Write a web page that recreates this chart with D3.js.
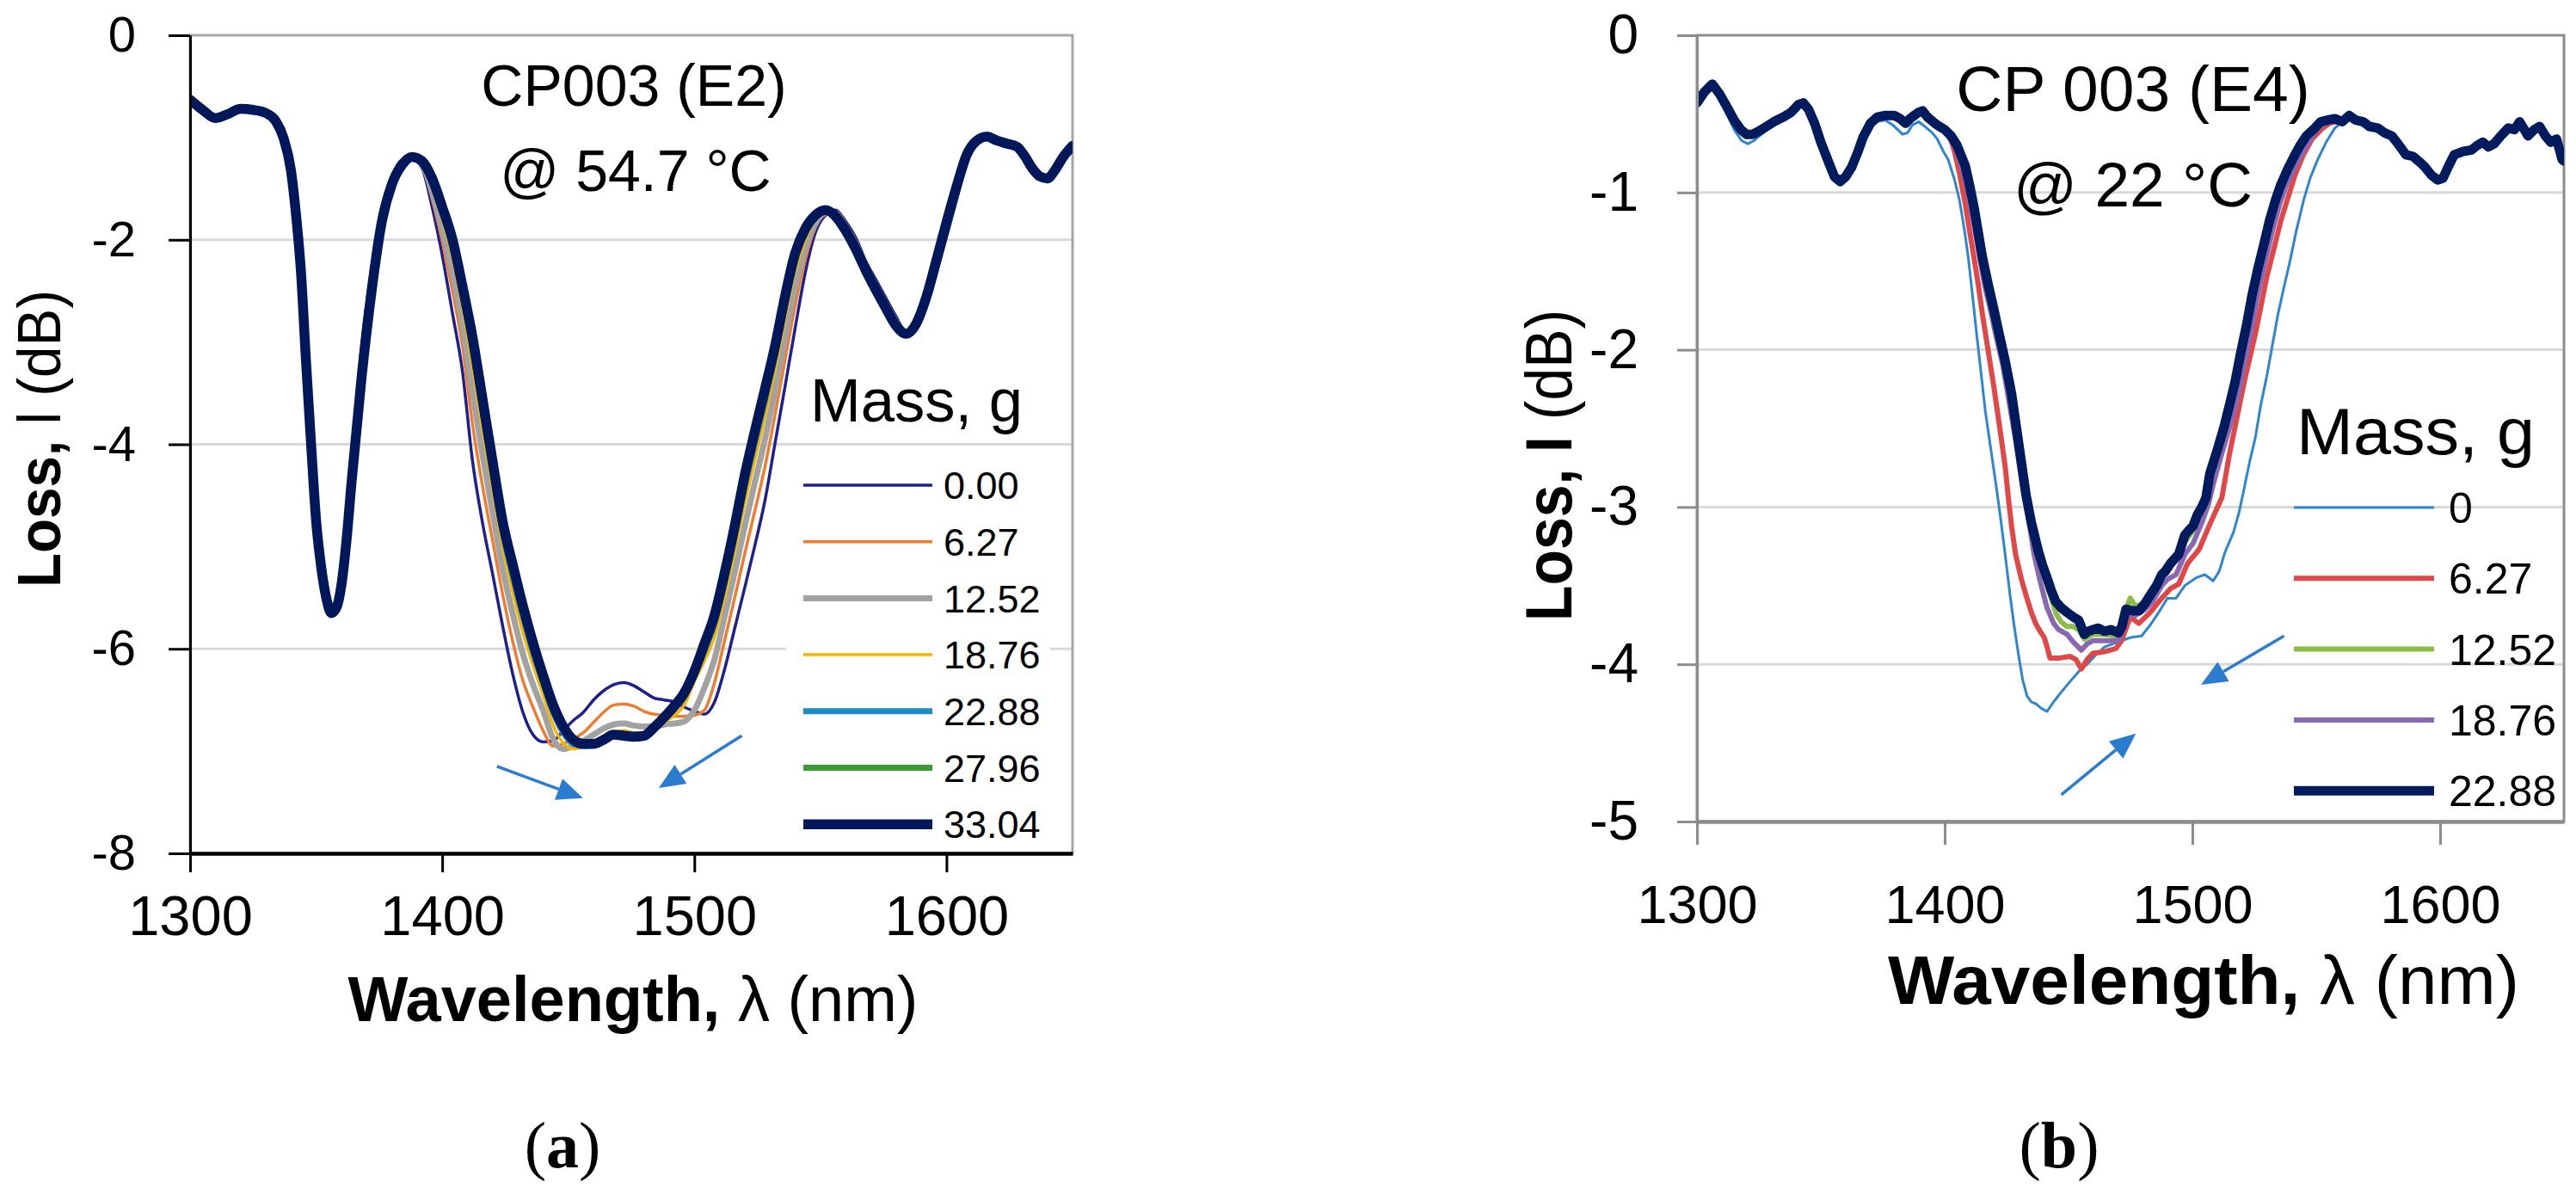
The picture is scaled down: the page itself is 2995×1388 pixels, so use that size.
<!DOCTYPE html>
<html><head><meta charset="utf-8">
<script src="https://cdn.jsdelivr.net/npm/d3@7"></script>
<style>body{margin:0;background:#fff}svg{display:block}</style>
</head><body>
<svg id="c" width="2995" height="1388"></svg>
<script>
// ---------------- DATA ----------------
const xTicks = [1300, 1400, 1500, 1600];
const yTicksA = [0, -2, -4, -6, -8];
const yTicksB = [0, -1, -2, -3, -4, -5];
const gridLinesA = [-2, -4, -6];
const gridLinesB = [-1, -2, -3, -4];
const massA = ["0.00", "6.27", "12.52", "18.76", "22.88", "27.96", "33.04"];
const massB = ["0", "6.27", "12.52", "18.76", "22.88"];

// Panel (a): shared start / end, per-series middle part on wavelength grid
const headA = [[1300,-0.63],[1305,-0.73],[1310,-0.81],[1315,-0.77],[1320,-0.72],[1325,-0.73],[1330,-0.76],[1334,-0.84],[1337,-1.0],[1340,-1.32],[1342,-1.75],[1344,-2.32],[1346,-3.2],[1348,-4.0],[1350,-4.75],[1352,-5.2],[1354,-5.5],[1356,-5.65],[1358,-5.6],[1360,-5.38],[1362,-4.95]];
const tailA = [[1616,-0.99],[1620,-1.03],[1624,-1.06],[1628,-1.09],[1631,-1.18],[1634,-1.3],[1637,-1.38],[1640,-1.4],[1643,-1.32],[1646,-1.2],[1650,-1.08]];
const gridA = [1364,1368,1372,1376,1380,1384,1388,1392,1396,1400,1404,1408,1412,1416,1420,1424,1428,1432,1436,1440,1444,1448,1452,1456,1460,1464,1468,1472,1476,1480,1484,1488,1492,1496,1500,1504,1508,1512,1516,1520,1524,1528,1532,1536,1540,1544,1548,1552,1556,1560,1564,1568,1572,1576,1580,1584,1588,1592,1596,1600,1604,1608,1612];
const a000 = [-4.25,-3.05,-2.28,-1.70,-1.38,-1.22,-1.20,-1.30,-1.68,-2.15, -2.71,-3.28,-4.16,-4.77,-5.27,-5.78,-6.25,-6.62,-6.84,-6.91, -6.90,-6.80,-6.70,-6.62,-6.50,-6.41,-6.35,-6.33,-6.36,-6.42, -6.48,-6.50,-6.52,-6.57,-6.61,-6.64,-6.52,-6.20,-5.80,-5.40, -4.99,-4.55,-3.99,-3.43,-2.86,-2.32,-1.93,-1.76,-1.71,-1.82, -1.98,-2.21,-2.39,-2.57,-2.75,-2.90,-2.86,-2.66,-2.33,-1.97, -1.61,-1.24,-1.04];
const a627 = [-4.29,-3.14,-2.35,-1.74,-1.40,-1.24,-1.20,-1.28,-1.60,-2.01, -2.49,-3.03,-3.80,-4.41,-4.94,-5.47,-5.93,-6.31,-6.57,-6.80, -6.95,-6.93,-6.88,-6.82,-6.72,-6.62,-6.55,-6.54,-6.56,-6.61, -6.64,-6.65,-6.66,-6.66,-6.65,-6.60,-6.33,-5.92,-5.50,-5.07, -4.65,-4.22,-3.71,-3.17,-2.64,-2.19,-1.88,-1.75,-1.73,-1.85, -2.01,-2.24,-2.42,-2.60,-2.78,-2.91,-2.85,-2.63,-2.29,-1.93, -1.57,-1.22,-1.04];
const a1252 = [-4.32,-3.22,-2.40,-1.77,-1.42,-1.25,-1.19,-1.26,-1.53,-1.89, -2.31,-2.82,-3.49,-4.10,-4.67,-5.22,-5.66,-6.05,-6.35,-6.60, -6.88,-6.98,-6.95,-6.90,-6.84,-6.78,-6.74,-6.73,-6.75,-6.76, -6.76,-6.74,-6.73,-6.71,-6.60,-6.38,-6.10,-5.68,-5.25,-4.80, -4.37,-3.95,-3.47,-2.95,-2.46,-2.08,-1.84,-1.73,-1.74,-1.87, -2.04,-2.26,-2.45,-2.63,-2.80,-2.91,-2.84,-2.60,-2.26,-1.89, -1.54,-1.20,-1.03];
const a1876 = [-4.35,-3.28,-2.45,-1.80,-1.44,-1.26,-1.19,-1.25,-1.47,-1.80, -2.17,-2.66,-3.25,-3.86,-4.44,-5.01,-5.45,-5.84,-6.16,-6.45, -6.75,-6.92,-6.98,-6.96,-6.92,-6.87,-6.82,-6.80,-6.82,-6.82, -6.78,-6.72,-6.65,-6.55,-6.32,-6.12,-5.88,-5.50,-5.05,-4.58, -4.15,-3.73,-3.28,-2.77,-2.31,-2.00,-1.80,-1.72,-1.75,-1.89, -2.06,-2.28,-2.47,-2.65,-2.82,-2.92,-2.83,-2.58,-2.23,-1.86, -1.51,-1.19,-1.03];
const a2288 = [-4.37,-3.32,-2.48,-1.82,-1.45,-1.27,-1.19,-1.24,-1.43,-1.73, -2.06,-2.53,-3.07,-3.68,-4.28,-4.86,-5.29,-5.68,-6.03,-6.33, -6.62,-6.82,-6.93,-6.95,-6.94,-6.89,-6.84,-6.83,-6.84,-6.84, -6.78,-6.69,-6.59,-6.47,-6.26,-6.02,-5.75,-5.35,-4.90,-4.41, -3.98,-3.57,-3.13,-2.64,-2.20,-1.93,-1.78,-1.71,-1.76,-1.90, -2.08,-2.29,-2.48,-2.66,-2.83,-2.92,-2.82,-2.57,-2.21,-1.84, -1.49,-1.18,-1.03];
const a2796 = [-4.37,-3.33,-2.49,-1.82,-1.46,-1.27,-1.19,-1.23,-1.41,-1.70, -2.03,-2.49,-3.01,-3.62,-4.22,-4.81,-5.23,-5.63,-5.98,-6.29, -6.58,-6.79,-6.91,-6.94,-6.94,-6.89,-6.84,-6.84,-6.85,-6.85, -6.78,-6.68,-6.57,-6.45,-6.24,-5.98,-5.71,-5.31,-4.85,-4.36, -3.93,-3.52,-3.09,-2.60,-2.17,-1.91,-1.77,-1.71,-1.77,-1.91, -2.09,-2.30,-2.49,-2.67,-2.84,-2.92,-2.82,-2.56,-2.20,-1.83, -1.48,-1.17,-1.03];
const a3304 = [-4.38,-3.35,-2.50,-1.83,-1.46,-1.27,-1.19,-1.23,-1.40,-1.68, -1.99,-2.45,-2.95,-3.56,-4.17,-4.76,-5.18,-5.58,-5.94,-6.26, -6.55,-6.76,-6.89,-6.93,-6.93,-6.89,-6.84,-6.85,-6.86,-6.85, -6.77,-6.67,-6.56,-6.43,-6.22,-5.95,-5.67,-5.26,-4.80,-4.30, -3.87,-3.46,-3.04,-2.55,-2.13,-1.89,-1.76,-1.71,-1.77,-1.91, -2.09,-2.30,-2.49,-2.67,-2.84,-2.92,-2.82,-2.56,-2.20,-1.83, -1.48,-1.17,-1.03];

// Panel (b): [wavelength, loss] pairs
const bHeadAll = [[1300,-0.43],[1303,-0.36],[1306.2,-0.31],[1309,-0.37]];
const bHead = [[1311.9,-0.45],[1315,-0.54],[1317.7,-0.60],[1320,-0.63],[1322.3,-0.63],[1325,-0.61],[1328,-0.58],[1331,-0.55],[1334.9,-0.52],[1338,-0.49],[1341,-0.44],[1342.9,-0.43],[1345,-0.47],[1347.5,-0.56],[1350,-0.68],[1353.2,-0.81],[1355.5,-0.90],[1357.8,-0.93],[1360,-0.90],[1362.4,-0.84],[1365,-0.74],[1367,-0.65],[1370,-0.56],[1372.8,-0.52],[1376,-0.51],[1379.6,-0.51],[1382,-0.53],[1384.2,-0.56],[1386,-0.53],[1387.7,-0.51],[1389.5,-0.49],[1391.1,-0.48],[1393,-0.52],[1396.9,-0.57],[1400,-0.60]];
const b0 = [[1312,-0.50],[1315,-0.60],[1318,-0.67],[1320.5,-0.69],[1323,-0.67],[1326,-0.63],[1330,-0.58],[1334,-0.53],[1338,-0.50],[1341,-0.45],[1343,-0.44],[1345,-0.49],[1347.5,-0.58],[1350,-0.70],[1353,-0.83],[1356,-0.92],[1358,-0.94],[1360.5,-0.90],[1363,-0.82],[1366,-0.70],[1369,-0.60],[1372,-0.55],[1376,-0.54],[1379,-0.57],[1381,-0.60],[1383,-0.63],[1385,-0.62],[1387,-0.57],[1389.5,-0.55],[1392,-0.58],[1395,-0.62],[1397,-0.66],[1399.5,-0.74],[1401.4,-0.79],[1404,-0.92],[1406,-1.05],[1408,-1.24],[1409.5,-1.41],[1411.2,-1.65],[1412.9,-1.90],[1414.7,-2.15],[1416.4,-2.39],[1418.7,-2.64],[1421,-2.89],[1422.8,-3.10],[1424.4,-3.30],[1426.3,-3.55],[1428,-3.75],[1429.8,-3.94],[1431.5,-4.10],[1433.2,-4.20],[1435,-4.24],[1436.7,-4.25],[1439,-4.28],[1441.3,-4.30],[1443.5,-4.25],[1445.9,-4.20],[1448.5,-4.15],[1451.7,-4.09],[1454.5,-4.04],[1457.5,-4.00],[1461,-3.94],[1464.5,-3.89],[1468,-3.87],[1471.4,-3.85],[1475,-3.83],[1479.5,-3.82],[1483,-3.75],[1486.4,-3.67],[1489.9,-3.58],[1493.4,-3.58],[1496.9,-3.50],[1501.5,-3.45],[1505,-3.43],[1508.4,-3.47],[1510.8,-3.41],[1513.1,-3.29],[1516.6,-3.16],[1518.9,-3.03],[1520.8,-2.89],[1523,-2.72],[1525.4,-2.56],[1527.5,-2.36],[1530,-2.17],[1532.3,-1.97],[1534.6,-1.77],[1537,-1.60],[1539.2,-1.45],[1542,-1.24],[1544.9,-1.05],[1547.5,-0.91],[1550.6,-0.79],[1554,-0.68],[1557.5,-0.59],[1560.5,-0.55],[1563.3,-0.52]];
const b627 = [[1402.6,-0.67],[1404,-0.74],[1406,-0.88],[1408.3,-1.07],[1410,-1.24],[1411.8,-1.41],[1413.5,-1.58],[1415.2,-1.77],[1417.5,-2.00],[1419.8,-2.23],[1422,-2.47],[1424.4,-2.74],[1425.7,-2.94],[1427,-3.12],[1428.6,-3.30],[1431,-3.46],[1433.2,-3.58],[1435,-3.67],[1436.7,-3.74],[1438.5,-3.79],[1440.2,-3.83],[1441.5,-3.90],[1442.5,-3.96],[1446.5,-3.96],[1450.6,-3.95],[1453,-3.97],[1455.2,-4.03],[1457.5,-3.97],[1459.8,-3.93],[1464.5,-3.92],[1469.1,-3.90],[1471.4,-3.85],[1474.9,-3.70],[1478.4,-3.74],[1483,-3.67],[1487.6,-3.58],[1491.1,-3.52],[1494.5,-3.49],[1498,-3.36],[1502.7,-3.27],[1507.3,-3.10],[1511.9,-2.94],[1515,-2.66],[1518,-2.43],[1521,-2.20],[1525.4,-1.90],[1530,-1.54],[1535.7,-1.18],[1541.4,-0.89],[1544.8,-0.76],[1548.3,-0.66],[1552,-0.60],[1555.2,-0.56],[1558,-0.55],[1560.5,-0.55],[1563.3,-0.52]];
const b1252 = [[1403,-0.66],[1405,-0.73],[1408,-0.88],[1410,-1.02],[1412,-1.18],[1414,-1.35],[1416,-1.53],[1418.5,-1.70],[1421,-1.88],[1423.5,-2.05],[1426,-2.27],[1428.5,-2.50],[1431,-2.78],[1433,-2.98],[1435.5,-3.18],[1438,-3.34],[1441,-3.48],[1443,-3.58],[1445,-3.68],[1447,-3.73],[1449.4,-3.76],[1452,-3.76],[1454,-3.78],[1456.4,-3.84],[1459.8,-3.81],[1464.5,-3.81],[1470,-3.82],[1472,-3.70],[1474.9,-3.58],[1477,-3.63],[1481,-3.61],[1484,-3.56],[1487.6,-3.45],[1491,-3.38],[1494.5,-3.32],[1497,-3.22],[1500.3,-3.15],[1503.8,-3.03],[1506,-2.92],[1508,-2.80],[1511,-2.63],[1513.8,-2.48],[1516,-2.35],[1518.3,-2.20],[1520.5,-2.03],[1523,-1.84],[1525,-1.66],[1527.5,-1.48],[1530,-1.32],[1532,-1.18],[1534.5,-1.05],[1537,-0.94],[1540,-0.84],[1542.5,-0.76],[1545,-0.70],[1547.5,-0.64],[1550,-0.59],[1553,-0.55],[1556,-0.54],[1560,-0.54],[1563.3,-0.50]];
const b1876 = [[1403,-0.67],[1405,-0.74],[1408,-0.90],[1410,-1.05],[1412,-1.22],[1414,-1.40],[1416,-1.58],[1418.5,-1.75],[1421,-1.93],[1423.5,-2.10],[1426,-2.33],[1428.5,-2.56],[1431,-2.82],[1433.5,-3.04],[1436.1,-3.30],[1438.5,-3.47],[1441.3,-3.64],[1444,-3.74],[1446,-3.78],[1449.4,-3.81],[1452,-3.86],[1455.2,-3.91],[1457.5,-3.87],[1459.8,-3.85],[1464.5,-3.85],[1470.2,-3.85],[1472,-3.78],[1474,-3.68],[1477,-3.69],[1481,-3.65],[1484,-3.60],[1487.6,-3.50],[1490,-3.46],[1493.4,-3.43],[1497,-3.30],[1500.3,-3.23],[1503.8,-3.10],[1506.5,-2.98],[1508.5,-2.85],[1511.5,-2.68],[1514.5,-2.52],[1517,-2.38],[1519.3,-2.22],[1521.5,-2.05],[1524,-1.86],[1526,-1.68],[1528.5,-1.50],[1531,-1.33],[1533,-1.20],[1535.5,-1.06],[1538,-0.95],[1541,-0.85],[1543.5,-0.77],[1546,-0.70],[1548.5,-0.64],[1551,-0.59],[1554,-0.55],[1557,-0.54],[1560,-0.54],[1563.3,-0.51]];
const b2288 = [[1402.6,-0.64],[1405,-0.70],[1408.3,-0.83],[1410,-0.95],[1411.8,-1.09],[1413.5,-1.25],[1415.2,-1.41],[1417.5,-1.58],[1419.8,-1.74],[1422,-1.90],[1424.4,-2.07],[1427,-2.28],[1429,-2.50],[1431,-2.72],[1432.8,-2.92],[1435,-3.10],[1437.8,-3.28],[1439.5,-3.37],[1441.3,-3.45],[1443,-3.53],[1444.8,-3.60],[1447,-3.64],[1449.4,-3.67],[1452,-3.70],[1454.1,-3.72],[1456.4,-3.81],[1458,-3.79],[1459.8,-3.78],[1462,-3.77],[1464.5,-3.79],[1467,-3.78],[1470.2,-3.80],[1471.5,-3.76],[1473.2,-3.65],[1476,-3.66],[1478.4,-3.66],[1481,-3.61],[1483,-3.56],[1485.5,-3.50],[1487.6,-3.43],[1489,-3.41],[1491.1,-3.36],[1494.5,-3.30],[1496.9,-3.18],[1498.5,-3.15],[1500.3,-3.12],[1502,-3.05],[1503.8,-3.00],[1505.5,-2.94],[1507,-2.79],[1510,-2.64],[1512.8,-2.49],[1515,-2.35],[1517.3,-2.20],[1519.5,-2.02],[1521.9,-1.84],[1524,-1.66],[1526.5,-1.48],[1529,-1.32],[1531.1,-1.18],[1533.5,-1.05],[1535.7,-0.95],[1538.5,-0.85],[1541.4,-0.76],[1543.5,-0.70],[1546,-0.64],[1548.8,-0.60],[1551.8,-0.55],[1554.5,-0.54],[1557.5,-0.53],[1560.5,-0.55],[1563.3,-0.51]];
const bTail = [[1566,-0.54],[1569,-0.55],[1571.5,-0.58],[1574.8,-0.59],[1577.5,-0.62],[1580.5,-0.64],[1583,-0.69],[1586.2,-0.76],[1589,-0.77],[1592,-0.81],[1594,-0.84],[1596.5,-0.89],[1599,-0.92],[1601.1,-0.91],[1603.5,-0.83],[1605.7,-0.76],[1609,-0.74],[1612.6,-0.73],[1615,-0.70],[1617.2,-0.68],[1619.5,-0.71],[1621.8,-0.69],[1624.5,-0.64],[1627.5,-0.59],[1630,-0.60],[1632.1,-0.55],[1634,-0.60],[1635.5,-0.64],[1638,-0.60],[1640.2,-0.58],[1642.5,-0.64],[1644.7,-0.68],[1647,-0.66],[1649.3,-0.79],[1650,-0.80]];

// Annotation arrows [x1, y1, x2(tip), y2(tip)] in data units
const arrowsA = [[1421.7,-7.15,1455.8,-7.46],[1518.8,-6.85,1485.9,-7.36]];
const arrowsB = [[1447.1,-4.83,1477.2,-4.44],[1537.0,-3.82,1503.5,-4.13]];

// ---------------- STYLE ----------------
const FONT = '"Liberation Sans", Arial, "DejaVu Sans", sans-serif';
const SERIF = '"Liberation Serif", "DejaVu Serif", serif';
const colorsA = ["#1f1f8e", "#ed7d31", "#a2a2a2", "#f5b400", "#1f8bc6", "#3a9a34", "#00175a"];
const widthsA = [3.5, 3.5, 7, 3.5, 7, 7, 11.5];
const colorsB = ["#2e86cf", "#e04848", "#8cbd45", "#8a68b0", "#001a5e"];
const widthsB = [3, 6, 6, 6, 11];
const arrowColor = "#2a7ccf";

const svg = d3.select("#c");
svg.append("rect").attr("width", 2995).attr("height", 1388).attr("fill", "#fff");

const midA = [a000, a627, a1252, a1876, a2288, a2796, a3304];
const seriesA = massA.map((m, i) => ({
  name: m, color: colorsA[i], width: widthsA[i],
  pts: headA.concat(gridA.map((w, j) => [w, midA[i][j]]), tailA)
}));
const seriesB = [
  bHeadAll.concat(b0, bTail),
  bHeadAll.concat(bHead, b627, bTail),
  bHeadAll.concat(bHead, b1252, bTail),
  bHeadAll.concat(bHead, b1876, bTail),
  bHeadAll.concat(bHead, b2288, bTail)
].map((pts, i) => ({ name: massB[i], color: colorsB[i], width: widthsB[i], pts }));

const fmt = d => String(d);   // plain hyphen-minus like the reference

function panel(cfg) {
  const g = svg.append("g");
  const x = d3.scaleLinear().domain([1300, 1650]).range([cfg.left, cfg.right]);
  const y = d3.scaleLinear().domain([cfg.yTicks[cfg.yTicks.length - 1], 0]).range([cfg.bottom, cfg.top]);

  // gridlines
  g.append("g").selectAll("line").data(cfg.grid).join("line")
    .attr("x1", cfg.left).attr("x2", cfg.right)
    .attr("y1", d => y(d)).attr("y2", d => y(d))
    .attr("stroke", "#d9d9d9").attr("stroke-width", 3);
  // plot border
  g.append("rect").attr("x", cfg.left).attr("y", cfg.top)
    .attr("width", cfg.right - cfg.left).attr("height", cfg.bottom - cfg.top)
    .attr("fill", "none").attr("stroke", cfg.borderColor).attr("stroke-width", 3);

  const clipId = "clip" + cfg.id;
  svg.append("defs").append("clipPath").attr("id", clipId).append("rect")
    .attr("x", cfg.left).attr("y", cfg.top - 20).attr("width", cfg.right - cfg.left).attr("height", cfg.bottom - cfg.top + 20);

  // titles inside plot
  cfg.titles.forEach(t => g.append("text").attr("x", t.x).attr("y", t.y)
    .attr("text-anchor", "middle").attr("font-family", FONT).attr("font-size", t.size)
    .attr("fill", "#000").text(t.text));

  const line = d3.line().x(d => x(d[0])).y(d => y(d[1])).curve(cfg.curve);
  g.append("g").attr("clip-path", `url(#${clipId})`).selectAll("path").data(cfg.series).join("path")
    .attr("d", d => line(d.pts)).attr("fill", "none")
    .attr("stroke", d => d.color).attr("stroke-width", d => d.width)
    .attr("stroke-linejoin", "round").attr("stroke-linecap", "round");

  // arrows
  cfg.arrows.forEach(a => {
    const x1 = x(a[0]), y1 = y(a[1]), x2 = x(a[2]), y2 = y(a[3]);
    const ang = Math.atan2(y2 - y1, x2 - x1);
    const hl = 30, hw = 13;
    const bx = x2 - hl * Math.cos(ang), by = y2 - hl * Math.sin(ang);
    g.append("line").attr("x1", x1).attr("y1", y1).attr("x2", bx).attr("y2", by)
      .attr("stroke", arrowColor).attr("stroke-width", 3.5);
    g.append("path").attr("d", `M${x2},${y2}L${bx + hw * Math.sin(ang)},${by - hw * Math.cos(ang)}L${bx - hw * Math.sin(ang)},${by + hw * Math.cos(ang)}Z`)
      .attr("fill", arrowColor);
  });

  // legend
  const L = cfg.legend;
  if (L.box) g.append("rect").attr("x", L.box[0]).attr("y", L.box[1]).attr("width", L.box[2]).attr("height", L.box[3]).attr("fill", "#fff");
  g.append("text").attr("x", L.titleX).attr("y", L.titleY).attr("font-family", FONT)
    .attr("font-size", L.titleSize).attr("textLength", L.titleLen).attr("lengthAdjust", "spacingAndGlyphs")
    .attr("fill", "#000").text("Mass, g");
  const items = g.append("g").selectAll("g").data(cfg.series).join("g")
    .attr("transform", (d, i) => `translate(0,${L.row0 + i * L.rowStep})`);
  items.append("line").attr("x1", L.lx1).attr("x2", L.lx2)
    .attr("stroke", d => d.color).attr("stroke-width", d => d.width);
  items.append("text").attr("x", L.tx).attr("dy", "0.36em").attr("font-family", FONT)
    .attr("font-size", L.size).attr("fill", "#000").text(d => d.name);

  // axes
  const ax = g.append("g").attr("transform", `translate(${cfg.left},0)`)
    .call(d3.axisLeft(y).tickValues(cfg.yTicks).tickFormat(fmt).tickSize(cfg.yTickSize).tickPadding(cfg.yPad).tickSizeOuter(0));
  const bx = g.append("g").attr("transform", `translate(0,${cfg.bottom})`)
    .call(d3.axisBottom(x).tickValues(xTicks).tickFormat(fmt).tickSize(cfg.xTickSize).tickPadding(cfg.xPad).tickSizeOuter(0));
  [ax, bx].forEach((a, k) => {
    a.attr("color", cfg.axisColor).attr("font-family", FONT);
    a.select(".domain").attr("stroke-width", k === 0 ? 3 : 4.5);
    a.selectAll(".tick line").attr("stroke-width", 3);
    a.selectAll(".tick text").attr("fill", "#000");
  });
  ax.attr("font-size", cfg.yFont);
  bx.attr("font-size", cfg.xFont);

  // axis titles
  const xt = g.append("text").attr("x", cfg.xTitle.x).attr("y", cfg.xTitle.y).attr("text-anchor", "middle")
    .attr("font-family", FONT).attr("font-size", cfg.xTitle.size)
    .attr("textLength", cfg.xTitle.len).attr("lengthAdjust", "spacingAndGlyphs").attr("fill", "#000");
  xt.append("tspan").attr("font-weight", "bold").text("Wavelength,");
  xt.append("tspan").text(" \u03bb (nm)");
  const yt = g.append("text").attr("transform", `translate(${cfg.yTitle.x},${cfg.yTitle.y}) rotate(-90)`)
    .attr("text-anchor", "middle").attr("font-family", FONT).attr("font-size", cfg.yTitle.size)
    .attr("textLength", cfg.yTitle.len).attr("lengthAdjust", "spacingAndGlyphs").attr("fill", "#000");
  yt.append("tspan").attr("font-weight", "bold").text(cfg.yTitle.bold);
  yt.append("tspan").text(cfg.yTitle.normal);

  // sub label
  const sl = g.append("text").attr("x", cfg.sub.x).attr("y", cfg.sub.y).attr("text-anchor", "middle")
    .attr("font-family", SERIF).attr("font-size", 76).attr("fill", "#000");
  sl.append("tspan").text("(");
  sl.append("tspan").attr("font-weight", "bold").text(cfg.sub.letter);
  sl.append("tspan").text(")");
}

panel({
  id: "A", left: 221, right: 1247, top: 41, bottom: 992,
  yTicks: yTicksA, grid: gridLinesA, borderColor: "#a6a6a6", axisColor: "#000",
  series: seriesA, curve: d3.curveMonotoneX, arrows: arrowsA,
  yTickSize: 25, yPad: 38, yFont: 58, xTickSize: 22, xPad: 27, xFont: 65,
  titles: [{ text: "CP003 (E2)", x: 737, y: 123, size: 68 }, { text: "@ 54.7 \u00b0C", x: 739, y: 222, size: 68 }],
  legend: { box: [914, 526, 307, 460], titleX: 942, titleY: 490, titleSize: 70, titleLen: 247,
    row0: 564, rowStep: 65.7, lx1: 934, lx2: 1084, tx: 1097, size: 45 },
  xTitle: { x: 736, y: 1187, size: 74, len: 663 },
  yTitle: { x: 70, y: 510, size: 70, len: 346, bold: "Loss,", normal: " l (dB)" },
  sub: { x: 654, y: 1357, letter: "a" }
});

panel({
  id: "B", left: 1973, right: 2981, top: 41, bottom: 955,
  yTicks: yTicksB, grid: gridLinesB, borderColor: "#8c8c8c", axisColor: "#8c8c8c",
  series: seriesB, curve: d3.curveLinear, arrows: arrowsB,
  yTickSize: 23, yPad: 45, yFont: 64, xTickSize: 27, xPad: 46, xFont: 63,
  titles: [{ text: "CP 003 (E4)", x: 2480, y: 129, size: 75 }, { text: "@ 22 \u00b0C", x: 2480, y: 240, size: 73 }],
  legend: { box: null, titleX: 2670, titleY: 528, titleSize: 76, titleLen: 277,
    row0: 590, rowStep: 82.3, lx1: 2667, lx2: 2830, tx: 2847, size: 50 },
  xTitle: { x: 2562, y: 1167, size: 80, len: 734 },
  yTitle: { x: 1827, y: 541, size: 76, len: 362, bold: "Loss, I", normal: " (dB)" },
  sub: { x: 2394, y: 1357, letter: "b" }
});
</script>
</body></html>
